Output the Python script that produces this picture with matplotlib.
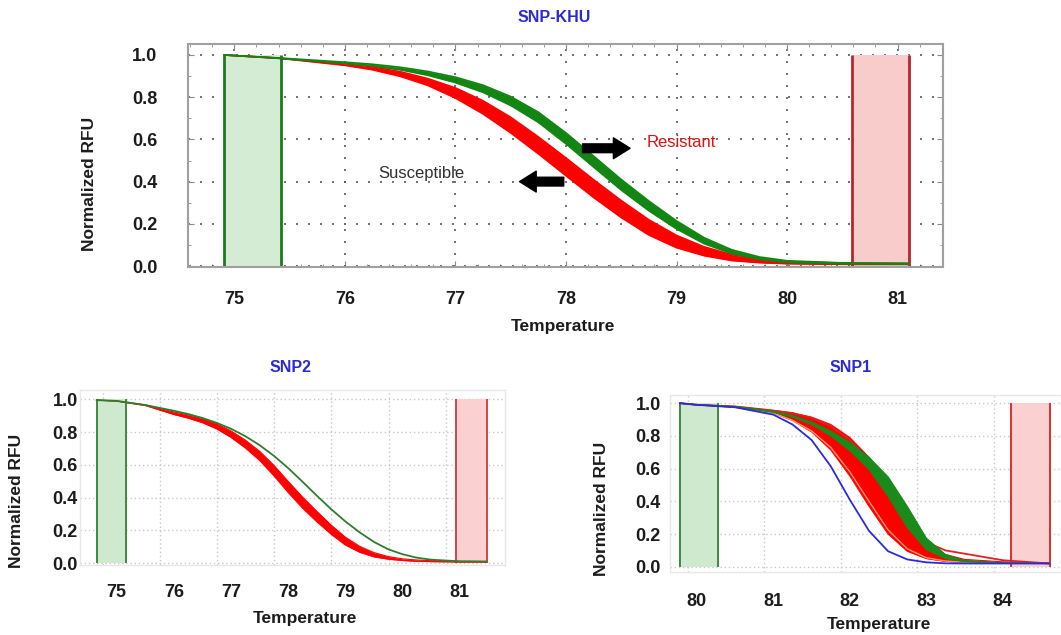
import numpy as np
import matplotlib
matplotlib.use("Agg")
import matplotlib.pyplot as plt
from matplotlib.ticker import MultipleLocator

plt.rcParams['font.family'] = ['Liberation Sans', 'DejaVu Sans']

W, H = 1061, 635

# ---- SNP-KHU (top panel)
khu_temp = [74.91, 75.4, 76.0, 76.25, 76.5, 76.75, 77.0, 77.25, 77.5, 77.75, 78.0,
            78.25, 78.5, 78.75, 79.0, 79.25, 79.5, 79.75, 80.0, 80.5, 81.1]
khu_red_hi = [1.0, 0.985, 0.959, 0.944, 0.921, 0.888, 0.844, 0.783, 0.705, 0.612, 0.512,
              0.409, 0.310, 0.219, 0.145, 0.091, 0.054, 0.034, 0.021, 0.014, 0.012]
khu_red_lo = [1.0, 0.985, 0.951, 0.930, 0.899, 0.856, 0.796, 0.721, 0.631, 0.532, 0.428,
              0.325, 0.230, 0.147, 0.087, 0.049, 0.026, 0.016, 0.011, 0.008, 0.008]
khu_green_hi = [1.0, 0.986, 0.966, 0.956, 0.942, 0.922, 0.895, 0.857, 0.803, 0.729, 0.631,
                0.521, 0.410, 0.308, 0.214, 0.134, 0.077, 0.043, 0.025, 0.015, 0.013]
khu_green_lo = [1.0, 0.984, 0.960, 0.948, 0.930, 0.904, 0.869, 0.823, 0.761, 0.681, 0.579,
                0.469, 0.360, 0.262, 0.176, 0.106, 0.059, 0.031, 0.017, 0.011, 0.009]
khu_green_zone = [74.91, 75.42]
khu_red_zone = [80.59, 81.10]
khu_xticks = [75, 76, 77, 78, 79, 80, 81]

# ---- SNP2 (bottom left)
snp2_temp = [74.65, 75.0, 75.5, 76.0, 76.25, 76.5, 76.75, 77.0, 77.25, 77.5, 77.75,
             78.0, 78.25, 78.5, 78.75, 79.0, 79.25, 79.5, 79.75, 80.0, 80.25, 80.5,
             81.0, 81.47]
snp2_green = [0.995, 0.99, 0.965, 0.93, 0.91, 0.886, 0.856, 0.82, 0.775, 0.72, 0.655,
              0.58, 0.497, 0.412, 0.33, 0.255, 0.188, 0.13, 0.085, 0.055, 0.034, 0.022,
              0.012, 0.01]
snp2_red_hi = [0.995, 0.99, 0.966, 0.923, 0.905, 0.883, 0.851, 0.807, 0.751, 0.683, 0.597,
               0.499, 0.404, 0.317, 0.233, 0.159, 0.103, 0.065, 0.041, 0.027, 0.020, 0.016,
               0.012, 0.012]
snp2_red_lo = [0.995, 0.989, 0.962, 0.907, 0.885, 0.857, 0.819, 0.767, 0.703, 0.627, 0.533,
               0.431, 0.336, 0.253, 0.177, 0.111, 0.067, 0.039, 0.025, 0.017, 0.012, 0.010,
               0.008, 0.008]
snp2_green_zone = [74.65, 75.17]
snp2_red_zone = [80.94, 81.47]
snp2_xticks = [75, 76, 77, 78, 79, 80, 81]

# ---- SNP1 (bottom right)
snp1_temp = [79.78, 80.0, 80.5, 81.0, 81.25, 81.5, 81.75, 82.0, 82.25, 82.5,
             82.75, 83.0, 83.25, 83.5, 84.0, 84.61]
snp1_blue = [1.0, 0.99, 0.975, 0.93, 0.87, 0.775, 0.615, 0.41, 0.22, 0.095,
             0.045, 0.027, 0.021, 0.02, 0.02, 0.02]
snp1_red_lo = [1.0, 0.99, 0.975, 0.94, 0.895, 0.825, 0.715, 0.555, 0.37, 0.20,
               0.095, 0.05, 0.033, 0.027, 0.022, 0.02]
snp1_red_hi = [1.0, 0.99, 0.98, 0.955, 0.94, 0.915, 0.87, 0.79, 0.67, 0.50,
               0.31, 0.15, 0.075, 0.045, 0.03, 0.022]
snp1_orange = [1.0, 0.99, 0.975, 0.94, 0.895, 0.83, 0.73, 0.58, 0.40, 0.225,
               0.11, 0.055, 0.035, 0.028, 0.022, 0.02]
snp1_red_tail = [1.0, 0.99, 0.98, 0.955, 0.94, 0.91, 0.86, 0.775, 0.65, 0.48,
                 0.29, 0.15, 0.10, 0.08, 0.04, 0.02]
snp1_green_lo = [1.0, 0.99, 0.977, 0.945, 0.915, 0.87, 0.80, 0.71, 0.595, 0.43,
                 0.24, 0.105, 0.05, 0.032, 0.023, 0.02]
snp1_green_hi = [1.0, 0.99, 0.98, 0.95, 0.925, 0.885, 0.83, 0.76, 0.67, 0.55,
                 0.37, 0.175, 0.075, 0.038, 0.025, 0.02]
snp1_green_zone = [79.78, 80.28]
snp1_red_zone = [84.11, 84.61]
snp1_xticks = [80, 81, 82, 83, 84]

yticks = [0.0, 0.2, 0.4, 0.6, 0.8, 1.0]

RED = '#ff0000'
GREEN = '#138513'
TITLE_BLUE = '#2a2ad0'
TXT = '#1c1c1c'


def box(l, t, r, b):
    return [l / W, 1 - b / H, (r - l) / W, (b - t) / H]


def ftext(x, y, s, **kw):
    fig.text(x / W, 1 - y / H, s, ha='center', va='center', **kw)


def band(ax, t, lo, hi, color, lw=1.0, z=3):
    ax.fill_between(t, lo, hi, color=color, lw=0, zorder=z)
    ax.plot(t, lo, color=color, lw=lw, zorder=z, solid_joinstyle='round')
    ax.plot(t, hi, color=color, lw=lw, zorder=z, solid_joinstyle='round')


def zones(ax, green, red, lw, gfill, gline, rfill, rline):
    ax.fill_between(green, 0, 1, color=gfill, lw=0, zorder=1)
    ax.vlines(green, 0, 1, color=gline, lw=lw, zorder=2)
    ax.fill_between(red, 0, 1, color=rfill, lw=0, zorder=1)
    ax.vlines(red, 0, 1, color=rline, lw=lw, zorder=2)


def small_axes(ax, xticks, grid_shift, xpad, ypad):
    ax.set_xticks(xticks)
    ax.set_yticks(yticks)
    ax.set_yticklabels(['%.1f' % v for v in yticks])
    ax.set_xticks(np.array(xticks) - grid_shift, minor=True)
    ax.tick_params(which='both', length=0)
    ax.tick_params(axis='x', pad=xpad, labelsize=13, labelcolor=TXT)
    ax.tick_params(axis='y', pad=ypad, labelsize=13, labelcolor=TXT)
    for lab in ax.get_xticklabels() + ax.get_yticklabels():
        lab.set_fontweight('bold')
    ax.grid(axis='x', which='minor', color='#c8c8c8', ls=(0, (1, 2)), lw=1)
    ax.grid(axis='y', which='major', color='#c8c8c8', ls=(0, (1, 2)), lw=1)
    ax.set_axisbelow(True)
    for sp in ax.spines.values():
        sp.set_color('#e8e8e8')
        sp.set_linewidth(1)


fig = plt.figure(figsize=(W / 100, H / 100), dpi=100)

# ---------------- top panel ----------------
ax = fig.add_axes(box(188, 44, 942.7, 267.3))
ax.set_xlim(74.581, 81.408)
ax.set_ylim(-0.006, 1.052)
zones(ax, khu_green_zone, khu_red_zone, 2.0, '#d3ecd3', '#1d7a1d', '#f9cccc', '#b8262b')
band(ax, khu_temp, khu_red_lo, khu_red_hi, RED, lw=1.2, z=3)
band(ax, khu_temp, khu_green_lo, khu_green_hi, GREEN, lw=1.2, z=4)

ax.set_xticks(khu_xticks)
ax.set_yticks(yticks)
ax.set_yticklabels(['%.1f' % v for v in yticks])
ax.xaxis.set_minor_locator(MultipleLocator(0.2))
ax.yaxis.set_minor_locator(MultipleLocator(0.1))
ax.tick_params(which='both', direction='in', top=True, right=True, color='#8a8a8a')
ax.tick_params(which='major', length=4)
ax.tick_params(which='minor', length=2.5)
ax.tick_params(axis='x', pad=17, labelsize=13, labelcolor=TXT)
ax.tick_params(axis='y', pad=22, labelsize=13, labelcolor=TXT)
for lab in ax.get_xticklabels() + ax.get_yticklabels():
    lab.set_fontweight('bold')
ax.grid(which='major', color='#5a5a5a', ls=(0, (1.2, 6)), lw=1.2)
ax.set_axisbelow(True)
for sp in ax.spines.values():
    sp.set_color('#a0a0a0')
    sp.set_linewidth(1.5)

arrow = dict(arrowstyle='simple,head_width=1.0,head_length=0.8,tail_width=0.42',
             color='black', shrinkA=0, shrinkB=0, mutation_scale=15)
ax.annotate('', xy=(78.58, 0.558), xytext=(78.15, 0.558), arrowprops=arrow, zorder=6)
ax.annotate('', xy=(77.58, 0.40), xytext=(77.98, 0.40), arrowprops=arrow, zorder=6)
ax.text(78.73, 0.583, 'Resistant', color='#e01010', fontsize=12, va='center', ha='left', zorder=6)
ax.text(76.30, 0.44, 'Susceptible', color='#303030', fontsize=12, va='center', ha='left', zorder=6)

ftext(554, 18, 'SNP-KHU', color=TITLE_BLUE, fontsize=11.5, fontweight='bold')
ftext(563, 327, 'Temperature', color=TXT, fontsize=12.5, fontweight='bold')
ftext(90, 184, 'Normalized RFU', color=TXT, fontsize=12.5, fontweight='bold', rotation=90)

# ---------------- SNP2 ----------------
ax2 = fig.add_axes(box(80, 390, 505, 565))
ax2.set_xlim(74.358, 81.79)
ax2.set_ylim(-0.0104, 1.0567)
zones(ax2, snp2_green_zone, snp2_red_zone, 1.4, '#cfe9cf', '#3c8a3c', '#fbd0d0', '#d04545')
band(ax2, snp2_temp, snp2_red_lo, snp2_red_hi, RED, lw=0.8, z=3)
ax2.plot(snp2_temp, snp2_green, color='#2e7d2e', lw=1.3, zorder=4)
small_axes(ax2, snp2_xticks, 0.245, 14, 1.5)

ftext(291, 368, 'SNP2', color=TITLE_BLUE, fontsize=11.5, fontweight='bold')
ftext(305, 618, 'Temperature', color=TXT, fontsize=12.5, fontweight='bold')
ftext(17, 501, 'Normalized RFU', color=TXT, fontsize=12.5, fontweight='bold', rotation=90)

# ---------------- SNP1 ----------------
ax3 = fig.add_axes(box(670, 395, 1061, 572))
ax3.set_xlim(79.65, 84.76)
ax3.set_ylim(-0.032, 1.05)
zones(ax3, snp1_green_zone, snp1_red_zone, 1.4, '#cfe9cf', '#3c8a3c', '#fbd0d0', '#d83030')
band(ax3, snp1_temp, snp1_red_lo, snp1_red_hi, RED, lw=0.8, z=3)
ax3.plot(snp1_temp, snp1_orange, color='#f39a6a', lw=1.0, zorder=3)
ax3.plot(snp1_temp, snp1_red_tail, color='#e02020', lw=1.3, zorder=3)
band(ax3, snp1_temp, snp1_green_lo, snp1_green_hi, '#1a8a1a', lw=0.8, z=4)
ax3.plot(snp1_temp, snp1_blue, color='#2a2ae0', lw=1.3, zorder=5)
small_axes(ax3, snp1_xticks, 0.12, 15, 6.7)

ftext(851, 368, 'SNP1', color=TITLE_BLUE, fontsize=11.5, fontweight='bold')
ftext(879, 624, 'Temperature', color=TXT, fontsize=12.5, fontweight='bold')
ftext(602, 509, 'Normalized RFU', color=TXT, fontsize=12.5, fontweight='bold', rotation=90)

fig.savefig('out.png', dpi=100)
